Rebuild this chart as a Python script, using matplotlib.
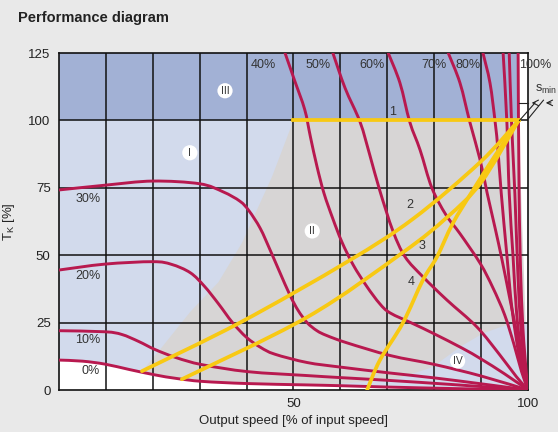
import matplotlib
matplotlib.use("Agg")
import matplotlib.pyplot as plt
from matplotlib.patches import Polygon, PathPatch
from matplotlib.path import Path

FONT = ['Liberation Sans Narrow', 'Liberation Sans', 'DejaVu Sans']
plt.rcParams['font.family'] = FONT

# ---- data (x = output speed %, y = T_K %) ----
curve_labels = ['0%', '10%', '20%', '30%', '40%', '50%', '60%', '70%', '80%', '90%', '95%', '100%']
c0_x = [0, 5, 9.8, 15, 20.5, 25, 30.5, 40, 52.5, 60, 70, 85, 100]
c0_y = [11.1, 10.7, 9.6, 7.6, 5.6, 4.3, 3.2, 2.4, 1.9, 1.6, 1.1, 0.5, 0]
c10_x = [0, 9.8, 13.4, 17, 20.5, 25, 30.5, 40.3, 52.5, 60, 70, 85, 100]
c10_y = [22, 21.6, 20.6, 18, 15, 12, 9.4, 6.8, 5.4, 4.6, 3.6, 1.9, 0]
c20_x = [0, 9.8, 20, 24, 28, 31, 34, 37, 40, 43, 46, 52.9, 60, 70.6, 80, 90, 100]
c20_y = [44.5, 46.7, 47.6, 46.6, 43.5, 38.5, 32, 25, 19.5, 15.8, 13.3, 10.2, 8.5, 6.3, 4.5, 2.3, 0]
c30_x = [0, 10, 20, 30, 35, 38.6, 40.5, 42.9, 45, 47, 49.3, 51, 52.9, 55, 57.1, 61.4, 70.6, 80, 90, 100]
c30_y = [74.2, 76, 77.5, 76.5, 73.5, 70, 66.5, 60, 52, 44, 35, 29.5, 25, 22, 20.2, 17.5, 12.8, 9.5, 5.2, 0]
c40_x = [48.2, 50.2, 52.4, 53.6, 55, 56.5, 58.4, 60.3, 62.7, 65.6, 68.4, 70.6, 75.5, 79.7, 86, 90, 95, 100]
c40_y = [125, 115, 104, 94, 83, 73, 63.5, 55, 46.5, 38.5, 32, 28.6, 24.6, 21.1, 15.5, 11.5, 6, 0]
c50_x = [58.4, 61, 64.2, 66.3, 68.4, 71.2, 73.8, 77.6, 82.7, 89.1, 94, 97.5, 100]
c50_y = [125, 112, 99.4, 87, 74, 59, 49.4, 42, 33.4, 23.4, 13, 5, 0]
c60_x = [70.2, 72.7, 74.8, 77, 79.5, 82.5, 85.5, 89.8, 92.5, 95, 97, 98.6, 100]
c60_y = [125, 113.9, 99.4, 89, 75, 65, 58, 47, 38, 28, 17, 7, 0]
c70_x = [83, 85.5, 87.6, 89.8, 91.3, 93, 94.5, 96, 97.5, 98.8, 100]
c70_y = [125, 113.9, 99.4, 85.3, 73, 60, 48, 35, 22, 10, 0]
c80_x = [90.4, 91.9, 93, 93.6, 94.3, 95.5, 96.6, 98.2, 100]
c80_y = [125, 113.9, 99.4, 89, 73, 50, 30, 12, 0]
c90_x = [94.7, 95.5, 96, 96.8, 97.6, 98.7, 100]
c90_y = [125, 99.4, 73, 50, 28, 12, 0]
c95_x = [96, 96.5, 97.2, 97.8, 98.4, 99.2, 100]
c95_y = [125, 99, 73, 45, 25, 10, 0]
c100_x = [97.9, 98.1, 98.5, 99.1, 100]
c100_y = [125, 73, 40, 18, 0]

# operating lines 1-4
op_labels = ['1', '2', '3', '4']
l1_x = [50, 98]
l1_y = [100, 100]
l2_x = [17.7, 38.6, 61.4, 75.5, 89.8, 98]
l2_y = [7, 25, 47.5, 63.5, 84.5, 100]
l3_x = [26.2, 52.9, 73.3, 82.7, 90, 98]
l3_y = [4, 27, 51, 64, 77, 100]
l4_x = [65.7, 68.4, 73.3, 77.6, 80.6, 84, 88.3, 93, 98]
l4_y = [0, 11, 24.8, 40.8, 49.4, 61.9, 74.2, 87, 100]

# region boundaries
reg2_x = [17.5, 22, 28, 34, 39, 45.4, 50]
reg2_y = [6.5, 16, 29, 40, 54.5, 79, 100]
reg4_x = [55, 65, 72.7, 79.7, 85.5, 90.4, 96.8, 100]
reg4_y = [1.7, 3, 4.5, 8.5, 16, 21, 25, 25]

x_ticks = [50, 100]
y_ticks = [0, 25, 50, 75, 100, 125]


def smooth_path(xs, ys, tension=6.0):
    """Catmull-Rom style Bezier path through the given points."""
    pts = list(zip(xs, ys))
    verts = [pts[0]]
    codes = [Path.MOVETO]
    n = len(pts)
    for i in range(n - 1):
        p0 = pts[i - 1] if i > 0 else pts[i]
        p1 = pts[i]
        p2 = pts[i + 1]
        p3 = pts[i + 2] if i + 2 < n else pts[i + 1]
        c1 = (p1[0] + (p2[0] - p0[0]) / tension, p1[1] + (p2[1] - p0[1]) / tension)
        c2 = (p2[0] - (p3[0] - p1[0]) / tension, p2[1] - (p3[1] - p1[1]) / tension)
        verts += [c1, c2, p2]
        codes += [Path.CURVE4] * 3
    return Path(verts, codes)


def draw_curve(ax, xs, ys, color, lw, z):
    ax.add_patch(PathPatch(smooth_path(xs, ys), facecolor='none', edgecolor=color, lw=lw,
                           capstyle='round', joinstyle='round', zorder=z))


# ---- figure ----
fig = plt.figure(figsize=(5.58, 4.32), dpi=100)
fig.patch.set_facecolor('#e9e9e9')
ax = fig.add_axes([0.1057, 0.0972, 0.8405, 0.7801])
ax.set_xlim(0, 100)
ax.set_ylim(0, 125)
ax.set_facecolor('white')

C_TOP = '#a2b1d5'
C_I = '#d2daec'
C_II = '#d7d5d5'
C_IV = '#d2daec'

# region I (light blue)
poly_I = list(zip(c0_x, c0_y)) + [(x, y) for x, y in zip(c100_x[::-1], c100_y[::-1]) if y <= 100] + [(98, 100), (0, 100)]
ax.add_patch(Polygon(poly_I, closed=True, facecolor=C_I, edgecolor='none', zorder=0.5))

# region II (gray)
pts = list(zip(reg2_x, reg2_y)) + [(98, 100)]
pts += [(x, y) for x, y in zip(c100_x[::-1], c100_y[::-1]) if y < 100]
pts += [(x, y) for x, y in zip(c0_x[::-1], c0_y[::-1]) if x > 17.5]
ax.add_patch(Polygon(pts, closed=True, facecolor=C_II, edgecolor='none', zorder=0.6))

# region IV (light blue, lower right)
pts4 = list(zip(reg4_x, reg4_y)) + [(100, 0)]
pts4 += [(x, y) for x, y in zip(c0_x[::-1], c0_y[::-1]) if 55 < x < 100]
ax.add_patch(Polygon(pts4, closed=True, facecolor=C_IV, edgecolor='none', zorder=0.7))

# region III (top band)
ax.add_patch(Polygon([(0, 100), (98, 100), (97.9, 125), (0, 125)], closed=True,
                     facecolor=C_TOP, edgecolor='none', zorder=0.8))

# grid
for gx in range(10, 100, 10):
    ax.plot([gx, gx], [0, 125], color='#111111', lw=1.1, zorder=1)
for gy in [25, 50, 75, 100]:
    ax.plot([0, 100], [gy, gy], color='#111111', lw=1.1, zorder=1)
for s in ax.spines.values():
    s.set_linewidth(1.2)
    s.set_color('#111111')

# slip curves
RED = '#b8194f'
curves = [(c0_x, c0_y), (c10_x, c10_y), (c20_x, c20_y), (c30_x, c30_y), (c40_x, c40_y),
          (c50_x, c50_y), (c60_x, c60_y), (c70_x, c70_y), (c80_x, c80_y), (c90_x, c90_y),
          (c95_x, c95_y), (c100_x, c100_y)]
for cx, cy in curves:
    draw_curve(ax, cx, cy, RED, 2.1, 3)

# operating lines
YEL = '#f8c913'
ax.plot(l1_x, l1_y, color=YEL, lw=2.7, zorder=4)
for lx, ly in [(l2_x, l2_y), (l3_x, l3_y), (l4_x, l4_y)]:
    draw_curve(ax, lx, ly, YEL, 2.7, 4)

# curve labels
lab_kw = dict(fontsize=9, color='#333333', zorder=5)
ax.text(3.5, 69.7, '30%', **lab_kw)
ax.text(3.5, 41, '20%', **lab_kw)
ax.text(3.5, 17.4, '10%', **lab_kw)
ax.text(4.8, 6, '0%', **lab_kw)
top_y = 120.5
for x, t in [(43.5, '40%'), (55.2, '50%'), (66.7, '60%'), (80, '70%'), (87.2, '80%')]:
    ax.text(x, top_y, t, ha='center', va='center', fontsize=9, color='#333333', zorder=5)
ax.text(101.6, top_y, '100%', ha='center', va='center', fontsize=9, color='#333333',
        zorder=5, clip_on=False)

# operating line numbers
for (x, y), t in zip([(71.2, 103), (74.8, 68.6), (77.4, 53.4), (75, 40)], op_labels):
    ax.text(x, y, t, ha='center', va='center', fontsize=9, color='#333333', zorder=5)

# region labels
for (x, y), t in zip([(35.4, 111), (27.9, 88), (54, 59), (85, 10.8)], ['III', 'I', 'II', 'IV']):
    ax.text(x, y, t, ha='center', va='center', fontsize=7.5, color='#333333', zorder=6,
            bbox=dict(boxstyle='circle,pad=0.25', facecolor='white', edgecolor='none'))

# s_min dimension
kw = dict(color='#222222', lw=0.8, clip_on=False, zorder=6)
ax.plot([98, 100], [106.5, 106.5], **kw)
ax.plot([98.2, 101.5], [100, 106.5], **kw)
ax.plot([100, 103.3], [100.5, 107.5], **kw)
ax.annotate('', xy=(100.2, 106.5), xytext=(102, 106.5),
            arrowprops=dict(arrowstyle='->', lw=0.8, color='#222222'), annotation_clip=False)
ax.annotate('', xy=(103.2, 106.5), xytext=(105.5, 106.5),
            arrowprops=dict(arrowstyle='->', lw=0.8, color='#222222'), annotation_clip=False)
ax.text(103.8, 111.5, r'$\mathregular{s_{min}}$', fontsize=9, color='#333333', ha='center',
        va='center', clip_on=False)

# axes ticks/labels
ax.set_xticks(x_ticks)
ax.set_yticks(y_ticks)
ax.tick_params(length=0, labelsize=9.5, colors='#222222', pad=6)
ax.set_xlabel('Output speed [% of input speed]', fontsize=9.5, color='#222222', labelpad=3)
ax.set_ylabel(r'T$_\mathregular{K}$ [%]', fontsize=9.5, color='#222222', labelpad=8)

fig.text(0.032, 0.958, 'Performance diagram', fontsize=10.5, fontweight='bold',
         color='#222222', va='center', ha='left')

fig.savefig('out.png', dpi=100, facecolor=fig.get_facecolor())
